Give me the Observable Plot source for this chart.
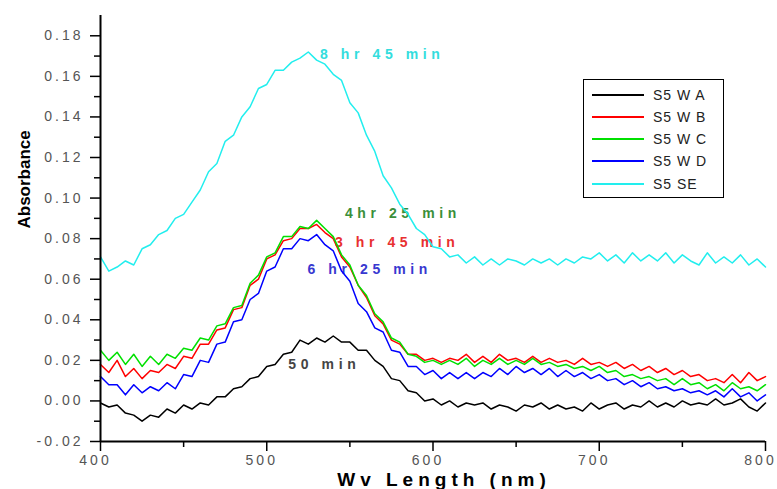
<!DOCTYPE html>
<html>
<head>
<meta charset="utf-8">
<script src="https://cdn.jsdelivr.net/npm/d3@7"></script>
<script src="https://cdn.jsdelivr.net/npm/@observablehq/plot@0.6"></script>
<style>
  body { margin: 0; background: #fff; }
  #wrap { position: relative; width: 777px; height: 489px; font-family: "Liberation Sans", Arial, sans-serif; }
  #legend { position: absolute; left: 583px; top: 79px; width: 141px; height: 119px; border: 1.5px solid #000; box-sizing: border-box; background: #fff; }
  .row { position: absolute; left: 0; height: 16px; display: flex; align-items: center; }
  .row .sw { width: 52px; height: 2px; margin-left: 8px; }
  .row span { margin-left: 9px; font-size: 14px; letter-spacing: 1px; color: #222; white-space: pre; }
</style>
</head>
<body>
<div id="wrap"></div>
<script>
// ---- data ----
const wavelength = [400,405,410,415,420,425,430,435,440,445,450,455,460,465,470,475,480,485,490,495,
  500,505,510,515,520,525,530,535,540,545,550,555,560,565,570,575,580,585,590,595,
  600,605,610,615,620,625,630,635,640,645,650,655,660,665,670,675,680,685,690,695,
  700,705,710,715,720,725,730,735,740,745,750,755,760,765,770,775,780,785,790,795,800];

const seriesNames = ["S5 W A", "S5 W B", "S5 W C", "S5 W D", "S5 SE"];
const seriesColors = ["#000000", "#ff0000", "#00e000", "#0000ff", "#22eeee"];

const s5wA = [-0.001,-0.003,-0.002,-0.006,-0.007,-0.010,-0.007,-0.008,-0.004,-0.006,-0.002,-0.004,-0.001,-0.002,0.002,0.002,0.006,0.007,0.011,0.012,
  0.017,0.018,0.023,0.024,0.030,0.028,0.031,0.029,0.032,0.029,0.029,0.025,0.025,0.020,0.017,0.011,0.010,0.005,0.004,0.000,
  0.001,-0.002,0.000,-0.003,-0.001,-0.002,-0.001,-0.004,-0.002,-0.003,-0.005,-0.002,-0.003,-0.001,-0.004,-0.002,-0.004,-0.003,-0.005,-0.001,
  -0.004,-0.002,-0.001,-0.004,-0.002,-0.003,0.000,-0.003,-0.001,-0.003,0.000,-0.002,-0.001,-0.002,0.001,-0.002,-0.001,0.001,-0.003,-0.005,-0.001];

const s5wB = [0.018,0.014,0.020,0.012,0.016,0.011,0.015,0.014,0.018,0.016,0.022,0.021,0.028,0.028,0.035,0.036,0.045,0.046,0.057,0.060,
  0.070,0.072,0.079,0.080,0.085,0.085,0.087,0.083,0.080,0.071,0.066,0.057,0.051,0.042,0.038,0.030,0.028,0.023,0.023,0.020,
  0.021,0.019,0.021,0.020,0.023,0.019,0.022,0.019,0.023,0.020,0.021,0.019,0.022,0.019,0.021,0.019,0.020,0.018,0.021,0.018,
  0.019,0.017,0.019,0.016,0.018,0.015,0.017,0.014,0.016,0.013,0.015,0.012,0.013,0.010,0.011,0.009,0.013,0.009,0.014,0.010,0.012];

const s5wC = [0.025,0.020,0.024,0.018,0.023,0.017,0.022,0.018,0.023,0.021,0.026,0.025,0.031,0.030,0.037,0.038,0.046,0.047,0.058,0.062,
  0.071,0.073,0.081,0.081,0.086,0.085,0.089,0.085,0.081,0.072,0.067,0.057,0.052,0.043,0.039,0.031,0.029,0.023,0.022,0.019,
  0.020,0.018,0.020,0.018,0.021,0.017,0.020,0.018,0.021,0.018,0.020,0.018,0.021,0.018,0.019,0.017,0.018,0.016,0.017,0.015,
  0.017,0.014,0.015,0.012,0.013,0.011,0.012,0.010,0.011,0.008,0.011,0.008,0.009,0.006,0.008,0.005,0.009,0.006,0.007,0.005,0.008];

const s5wD = [0.012,0.008,0.008,0.003,0.008,0.004,0.007,0.005,0.009,0.006,0.013,0.012,0.020,0.019,0.028,0.029,0.039,0.040,0.050,0.053,
  0.064,0.066,0.075,0.075,0.080,0.079,0.082,0.077,0.074,0.064,0.059,0.048,0.044,0.036,0.034,0.025,0.024,0.017,0.017,0.013,
  0.015,0.011,0.014,0.011,0.014,0.011,0.014,0.012,0.016,0.013,0.017,0.014,0.016,0.013,0.016,0.012,0.015,0.012,0.014,0.011,
  0.013,0.010,0.011,0.008,0.010,0.007,0.009,0.006,0.007,0.005,0.006,0.004,0.005,0.003,0.005,0.002,0.006,0.002,0.004,0.000,0.003];

const s5SE = [0.071,0.064,0.066,0.069,0.067,0.075,0.077,0.082,0.084,0.090,0.092,0.098,0.104,0.113,0.117,0.128,0.131,0.140,0.145,0.154,
  0.156,0.163,0.163,0.167,0.169,0.172,0.168,0.166,0.161,0.158,0.147,0.142,0.131,0.123,0.111,0.105,0.097,0.092,0.085,0.082,
  0.076,0.075,0.071,0.072,0.068,0.071,0.067,0.070,0.067,0.070,0.069,0.067,0.070,0.068,0.070,0.067,0.070,0.068,0.071,0.070,
  0.073,0.069,0.072,0.068,0.073,0.069,0.072,0.069,0.073,0.068,0.072,0.069,0.067,0.073,0.068,0.071,0.068,0.072,0.067,0.070,0.066];

const seriesValues = [s5wA, s5wB, s5wC, s5wD, s5SE];

const annotLabels = ["8 hr 45 min", "4hr 25 min", "3 hr 45 min", "6 hr 25 min", "50 min"];
const annotX = [532, 547, 541, 524.5, 513];
const annotY = [0.171, 0.0923, 0.078, 0.0647, 0.018];
const annotColors = ["#33dddd", "#3a8f3a", "#e83030", "#3838d0", "#444444"];

const yMajor = [-0.02,0.00,0.02,0.04,0.06,0.08,0.10,0.12,0.14,0.16,0.18];
const yMinor = [-0.01,0.01,0.03,0.05,0.07,0.09,0.11,0.13,0.15,0.17];
const xMajor = [400,500,600,700,800];
const xMinor = [450,550,650,750];

// ---- build ----
const annotations = annotLabels.map((t, i) => ({label: t, nm: annotX[i], a: annotY[i], color: annotColors[i]}));
const lineMarks = seriesValues.map((vals, i) =>
  Plot.line(vals.map((v, j) => ({nm: wavelength[j], a: v})), {x: "nm", y: "a", stroke: seriesColors[i], strokeWidth: 1.5})
);

const chart = Plot.plot({
  width: 777, height: 489,
  marginLeft: 100, marginRight: 12, marginTop: 15, marginBottom: 48,
  x: {domain: [400, 800], label: null},
  y: {domain: [-0.02, 0.19], label: null},
  style: {fontFamily: "'Liberation Sans', Arial, sans-serif", background: "white", overflow: "visible"},
  marks: [
    Plot.text(annotations, {x: "nm", y: "a", text: "label", fill: "color", textAnchor: "start", fontSize: 14, fontWeight: "bold"}),
    ...lineMarks,
    Plot.ruleX([400], {y1: -0.02, y2: 0.19, strokeWidth: 2}),
    Plot.ruleY([-0.02], {x1: 400, x2: 800, strokeWidth: 2}),
    Plot.axisY(yMajor, {tickSize: 10, strokeWidth: 1.5, tickFormat: () => "", label: null}),
    Plot.axisY(yMinor, {tickSize: 6, strokeWidth: 1.5, tickFormat: () => "", label: null}),
    Plot.axisY(yMajor, {tickSize: 0, tickPadding: 17, tickFormat: d => d.toFixed(2), color: "#555", fontSize: 14, label: null}),
    Plot.axisX(xMajor, {tickSize: 10, strokeWidth: 1.5, tickFormat: () => "", label: null}),
    Plot.axisX(xMinor, {tickSize: 6, strokeWidth: 1.5, tickFormat: () => "", label: null}),
    Plot.axisX(xMajor, {tickSize: 0, tickPadding: 14, dx: -5, tickFormat: d => String(d), color: "#555", fontSize: 14, label: null}),
    Plot.text(["Absorbance"], {frameAnchor: "left", dx: -76, rotate: -90, fontSize: 17, fontWeight: "bold", fill: "black"}),
    Plot.text(["Wv Length (nm)"], {frameAnchor: "bottom", dx: 11, dy: 44, fontSize: 19, fontWeight: "bold", fill: "black"})
  ]
});

// letter spacing tweaks
chart.querySelectorAll('g[aria-label$="tick label"] text').forEach(t => t.setAttribute("letter-spacing", "3"));
const textGroups = chart.querySelectorAll('g[aria-label="text"]');
if (textGroups[0]) textGroups[0].querySelectorAll("text").forEach(t => t.setAttribute("letter-spacing", "4.6"));
if (textGroups[2]) textGroups[2].querySelectorAll("text").forEach(t => t.setAttribute("letter-spacing", "5"));

const wrap = document.getElementById("wrap");
wrap.appendChild(chart);

// legend
const legend = document.createElement("div");
legend.id = "legend";
const rowCenters = [15, 37, 59, 81, 104];
seriesNames.forEach((name, i) => {
  const row = document.createElement("div");
  row.className = "row";
  row.style.top = (rowCenters[i] - 8) + "px";
  const sw = document.createElement("div");
  sw.className = "sw";
  sw.style.background = seriesColors[i];
  const sp = document.createElement("span");
  sp.textContent = name;
  row.appendChild(sw); row.appendChild(sp);
  legend.appendChild(row);
});
wrap.appendChild(legend);
</script>
</body>
</html>
